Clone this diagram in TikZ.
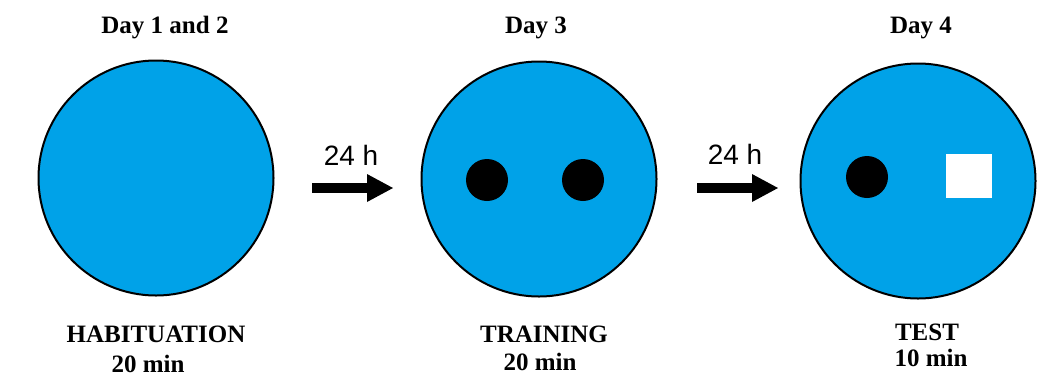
\documentclass[tikz,border=0pt]{standalone}
\usepackage{fontspec}
\setmainfont{Liberation Serif}
\newfontfamily\arialfont{Liberation Sans}
\usetikzlibrary{arrows.meta}
\definecolor{arenablue}{RGB}{0,162,232}
\begin{document}
\begin{tikzpicture}[x=1pt,y=-1pt,
  arena/.style={circle,draw=black,line width=2pt,fill=arenablue,minimum size=235pt,inner sep=0pt},
  obj/.style={circle,fill=black,minimum size=42pt,inner sep=0pt},
  newobj/.style={rectangle,fill=white,minimum width=46pt,minimum height=44pt,inner sep=0pt},
  lbl/.style={font=\fontsize{25}{28}\selectfont\bfseries,anchor=base,inner sep=0pt},
  delay/.style={font=\arialfont\fontsize{28}{32}\selectfont,anchor=base,inner sep=0pt},
  bigarrow/.style={line width=10pt,-{Triangle[length=26pt,width=28pt,line width=0pt]}}]
\useasboundingbox (0,0) rectangle (1055,381);
% arenas
\node[arena] (c1) at (156,178) {};
\node[arena] (c2) at (539,179) {};
\node[arena] (c3) at (918,181) {};
% objects
\node[obj] (o1) at (487,180) {};
\node[obj] (o2) at (583,180) {};
\node[obj] (o3) at (867,177) {};
\node[newobj] (o4) at (969,176) {};
% titles
\node[lbl] (t1) at (165,33) {Day 1 and 2};
\node[lbl] (t2) at (536,33) {Day 3};
\node[lbl] (t3) at (921,33) {Day 4};
% bottom labels
\node[lbl] (b1) at (156,342) {HABITUATION};
\node[lbl] (b1t) at (148,372) {20 min};
\node[lbl] (b2) at (544,342) {TRAINING};
\node[lbl] (b2t) at (540,370) {20 min};
\node[lbl] (b3) at (927,340) {TEST};
\node[lbl] (b3t) at (931,366) {10 min};
% delays
\node[delay] (d1) at (351,165) {24 h};
\node[delay] (d2) at (735,164) {24 h};
\coordinate (a1s) at (312,188);
\coordinate (a1e) at (393,188);
\coordinate (a2s) at (697,188);
\coordinate (a2e) at (778,188);
\draw[bigarrow] (a1s) -- (a1e);
\draw[bigarrow] (a2s) -- (a2e);
\end{tikzpicture}
\end{document}
